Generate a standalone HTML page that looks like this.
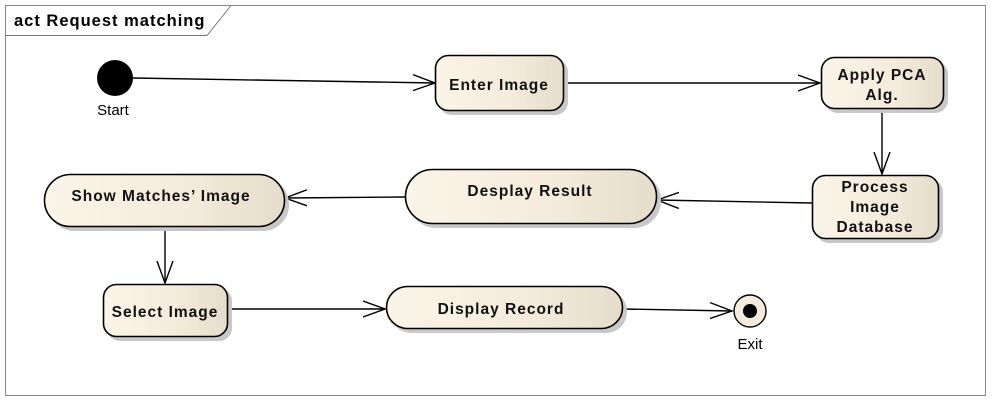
<!DOCTYPE html>
<html><head><meta charset="utf-8"><style>
html,body{margin:0;padding:0;background:#fff;width:995px;height:403px;overflow:hidden}
text{font-family:"Liberation Sans",Arial,sans-serif}
.b{font-weight:bold;font-size:15.5px;fill:#111;text-anchor:middle;letter-spacing:1px}
</style></head><body>
<svg width="995" height="403" viewBox="0 0 995 403" xmlns="http://www.w3.org/2000/svg">
<defs>
<linearGradient id="g" x1="0" x2="1" y1="0" y2="0"><stop offset="0" stop-color="#fbf4e8"/><stop offset="0.6" stop-color="#f4ebdc"/><stop offset="1" stop-color="#e6dccb"/></linearGradient>
<marker id="a" markerWidth="24" markerHeight="18" refX="22" refY="9" orient="auto" markerUnits="userSpaceOnUse"><path d="M0,1 L22,9 L0,17" fill="none" stroke="#000" stroke-width="1.4"/></marker>
</defs>
<rect x="5.5" y="5.5" width="980" height="390" fill="#fff" stroke="#888" stroke-width="1"/>
<path d="M5.5,35.5 H207 L231,5.5" fill="none" stroke="#777" stroke-width="1"/>
<text x="14" y="26" font-size="16.5" font-weight="bold" fill="#000" letter-spacing="1">act Request matching</text>
<g stroke="#000" stroke-width="1.4" fill="none">
<line x1="133" y1="78" x2="435" y2="83" marker-end="url(#a)"/>
<line x1="564" y1="83" x2="820" y2="83" marker-end="url(#a)"/>
<line x1="882" y1="109" x2="882" y2="174" marker-end="url(#a)"/>
<line x1="812" y1="203" x2="657" y2="200" marker-end="url(#a)"/>
<line x1="405" y1="197" x2="285" y2="198" marker-end="url(#a)"/>
<line x1="165" y1="227" x2="165" y2="283" marker-end="url(#a)"/>
<line x1="228" y1="309" x2="385" y2="309" marker-end="url(#a)"/>
<line x1="623" y1="309" x2="732" y2="311" marker-end="url(#a)"/>
</g>
<g fill="#c8c8c8">
<rect x="439" y="59" width="129" height="56" rx="13"/>
<rect x="825" y="61" width="123" height="52" rx="13"/>
<rect x="816" y="179" width="127" height="64" rx="13"/>
<rect x="409" y="173" width="252" height="55" rx="27"/>
<rect x="48" y="178" width="241" height="53" rx="26"/>
<rect x="107" y="288" width="125" height="53" rx="13"/>
<rect x="390" y="290" width="237" height="43" rx="21"/>
</g>
<g fill="url(#g)" stroke="#000" stroke-width="1.6">
<rect x="435.5" y="55.5" width="128" height="55" rx="13"/>
<rect x="821.5" y="57.5" width="122" height="51" rx="13"/>
<rect x="812.5" y="175.5" width="126" height="63" rx="13"/>
<rect x="405.5" y="169.5" width="251" height="54" rx="27"/>
<rect x="44.5" y="174.5" width="240" height="52" rx="26"/>
<rect x="103.5" y="284.5" width="124" height="52" rx="13"/>
<rect x="386.5" y="286.5" width="236" height="42" rx="21"/>
</g>
<text class="b" x="499" y="90">Enter Image</text>
<text class="b" x="882" y="80">Apply PCA</text>
<text class="b" x="882" y="100">Alg.</text>
<text class="b" x="875" y="192">Process</text>
<text class="b" x="875" y="212">Image</text>
<text class="b" x="875" y="232">Database</text>
<text class="b" x="530" y="196">Desplay Result</text>
<text class="b" x="161" y="201">Show Matches’ Image</text>
<text class="b" x="165" y="317">Select Image</text>
<text class="b" x="501" y="314">Display Record</text>
<circle cx="115" cy="78" r="18" fill="#000"/>
<text x="113" y="115" font-size="15" text-anchor="middle" fill="#000">Start</text>
<circle cx="750" cy="311" r="16" fill="#f4ebdc" stroke="#000" stroke-width="1.4"/>
<circle cx="750" cy="311" r="7" fill="#000"/>
<text x="750" y="349" font-size="15" text-anchor="middle" fill="#000">Exit</text>
</svg>
</body></html>
